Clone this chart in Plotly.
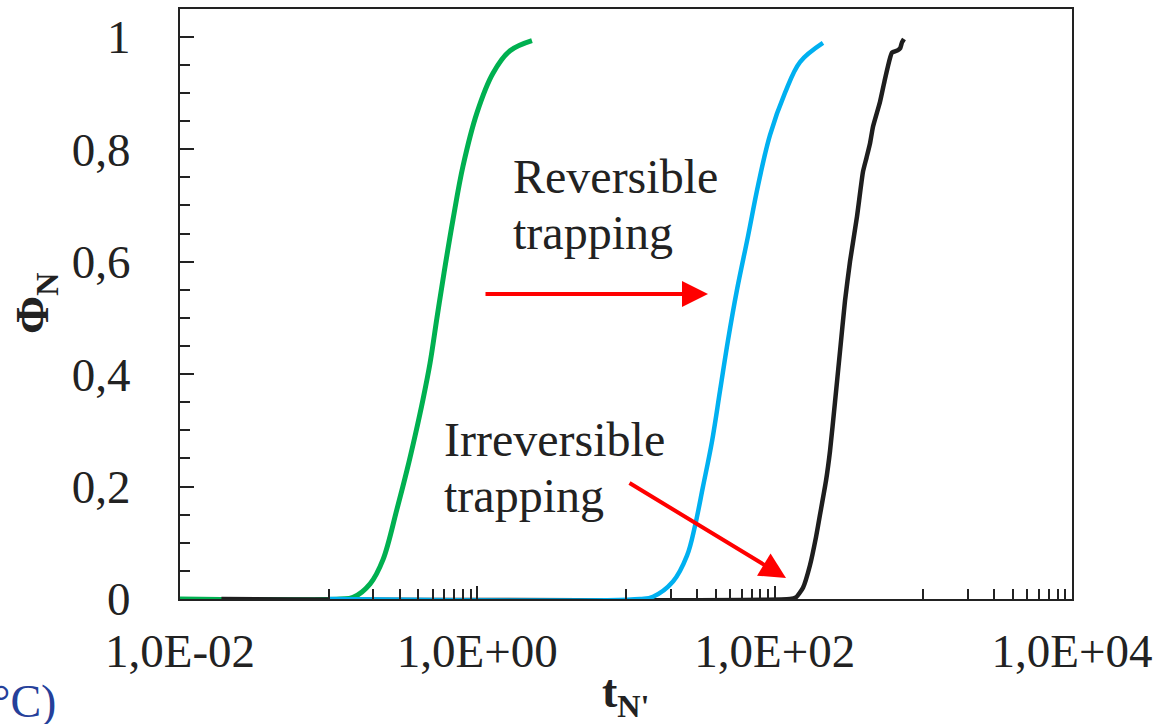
import plotly.graph_objects as go

# Dimensionless time t_N' (log scale) and trapped fraction Phi_N for each case
t_green = [0.01, 0.119, 0.146, 0.190, 0.232, 0.288, 0.337, 0.381, 0.431, 0.481,
           0.535, 0.597, 0.686, 0.801, 0.995, 1.274, 1.659, 2.33]
phi_green = [0, 0, 0.003, 0.027, 0.07, 0.16, 0.23, 0.29, 0.355, 0.42,
             0.50, 0.58, 0.675, 0.77, 0.865, 0.935, 0.975, 0.993]

t_blue = [0.1, 12.42, 15.19, 20.71, 25.72, 29.11, 32.96, 37.87, 42.88, 48.53,
          55.79, 66.14, 77.24, 93.0, 117.3, 148.0, 211.3]
phi_blue = [0, 0, 0.004, 0.031, 0.077, 0.13, 0.2, 0.28, 0.37, 0.46,
            0.55, 0.645, 0.735, 0.825, 0.9, 0.955, 0.989]

t_black = [0.019, 126.8, 139.1, 155.1, 172.8, 189.7, 201.8, 221.4, 235.6, 254.5,
           275.0, 297.2, 321.1, 357.9, 392.8, 415.0, 437.7, 458.5, 510.9, 552.3,
           596.8, 615.5, 675.2, 700.0, 718.5, 741.0]
phi_black = [0, 0, 0.003, 0.02, 0.06, 0.11, 0.15, 0.21, 0.263, 0.35,
             0.44, 0.53, 0.60, 0.68, 0.76, 0.785, 0.81, 0.84, 0.884, 0.925,
             0.962, 0.972, 0.976, 0.98, 0.99, 0.996]

y_tickvals = [0, 0.2, 0.4, 0.6, 0.8, 1]
y_ticktext = ["0", "0,2", "0,4", "0,6", "0,8", "1"]
x_tickvals = [0.01, 1, 100, 10000]
x_ticktext = ["1,0E-02", "1,0E+00", "1,0E+02", "1,0E+04"]
x_minorvals = [k * 10 ** e for e in (-1, 1, 3) for k in range(1, 10)]

W, H = 1159, 724
ML, MR, MT, MB = 180, 87, 7, 125
PW, PH = W - ML - MR, H - MT - MB

FONT = "Liberation Serif"
INK = "#222222"


def px(xp):
    return (xp - ML) / PW


def py(yp):
    return (H - MB - yp) / PH


fig = go.Figure()
fig.add_trace(go.Scatter(x=t_green, y=phi_green, mode="lines",
                         line=dict(color="#00B050", width=5, shape="spline", smoothing=1.0),
                         showlegend=False))
fig.add_trace(go.Scatter(x=t_black, y=phi_black, mode="lines",
                         line=dict(color="#1E1E1E", width=4.5, shape="spline", smoothing=0.5),
                         showlegend=False))
fig.add_trace(go.Scatter(x=t_blue, y=phi_blue, mode="lines",
                         line=dict(color="#00B0F0", width=4.5, shape="spline", smoothing=1.0),
                         showlegend=False))

annotations = []


def label(text, x_left, y_center):
    annotations.append(dict(text=text, xref="paper", yref="paper",
                            x=px(x_left), y=py(y_center), xanchor="left", yanchor="middle",
                            showarrow=False, font=dict(family=FONT, size=48, color=INK)))


label("Reversible", 511, 175)
label("trapping", 511, 231)
label("Irreversible", 442, 439)
label("trapping", 442, 495)

# red arrows
annotations.append(dict(text="", xref="paper", yref="paper", x=px(708), y=py(293),
                        axref="pixel", ayref="pixel", ax=484 - 708, ay=0,
                        showarrow=True, arrowhead=2, arrowsize=1.3, arrowwidth=4,
                        arrowcolor="#FF0000"))
annotations.append(dict(text="", xref="paper", yref="paper", x=px(786), y=py(578),
                        axref="pixel", ayref="pixel", ax=628 - 786, ay=482 - 578,
                        showarrow=True, arrowhead=2, arrowsize=1.3, arrowwidth=4,
                        arrowcolor="#FF0000"))

# axis titles
annotations.append(dict(text="<b>Φ<sub>N</sub></b>", xref="paper", yref="paper",
                        x=px(36), y=py(303), xanchor="center", yanchor="middle",
                        textangle=-90, showarrow=False,
                        font=dict(family=FONT, size=46, color=INK)))
annotations.append(dict(text="<b>t<sub>N'</sub></b>", xref="paper", yref="paper",
                        x=px(626), y=py(695), xanchor="center", yanchor="middle",
                        showarrow=False, font=dict(family=FONT, size=46, color=INK)))
annotations.append(dict(text="°C)", xref="paper", yref="paper",
                        x=px(58), y=py(702), xanchor="right", yanchor="middle",
                        showarrow=False, font=dict(family=FONT, size=46, color="#25409A")))

fig.update_layout(
    width=W, height=H,
    margin=dict(l=ML, r=MR, t=MT, b=MB, pad=0),
    paper_bgcolor="white", plot_bgcolor="white",
    annotations=annotations,
    xaxis=dict(type="log", range=[-2, 4], showgrid=False, zeroline=False,
               showline=True, mirror=True, linecolor=INK, linewidth=2,
               ticks="inside", ticklen=13, tickwidth=2, tickcolor=INK,
               tickmode="array", tickvals=x_tickvals, ticktext=x_ticktext,
               ticklabelstandoff=10,
               tickfont=dict(family=FONT, size=47, color=INK),
               minor=dict(ticks="inside", ticklen=10, tickwidth=2, tickcolor=INK,
                          tickmode="array", tickvals=x_minorvals, showgrid=False)),
    yaxis=dict(range=[0, 1.0493], showgrid=False, zeroline=False,
               showline=True, mirror=True, linecolor=INK, linewidth=2,
               ticks="inside", ticklen=14, tickwidth=2, tickcolor=INK,
               tickmode="array", tickvals=y_tickvals, ticktext=y_ticktext,
               ticklabelstandoff=38,
               tickfont=dict(family=FONT, size=47, color=INK),
               minor=dict(ticks="inside", ticklen=10, tickwidth=2, tickcolor=INK,
                          dtick=0.05, showgrid=False)),
)

fig.write_html("out.html")
